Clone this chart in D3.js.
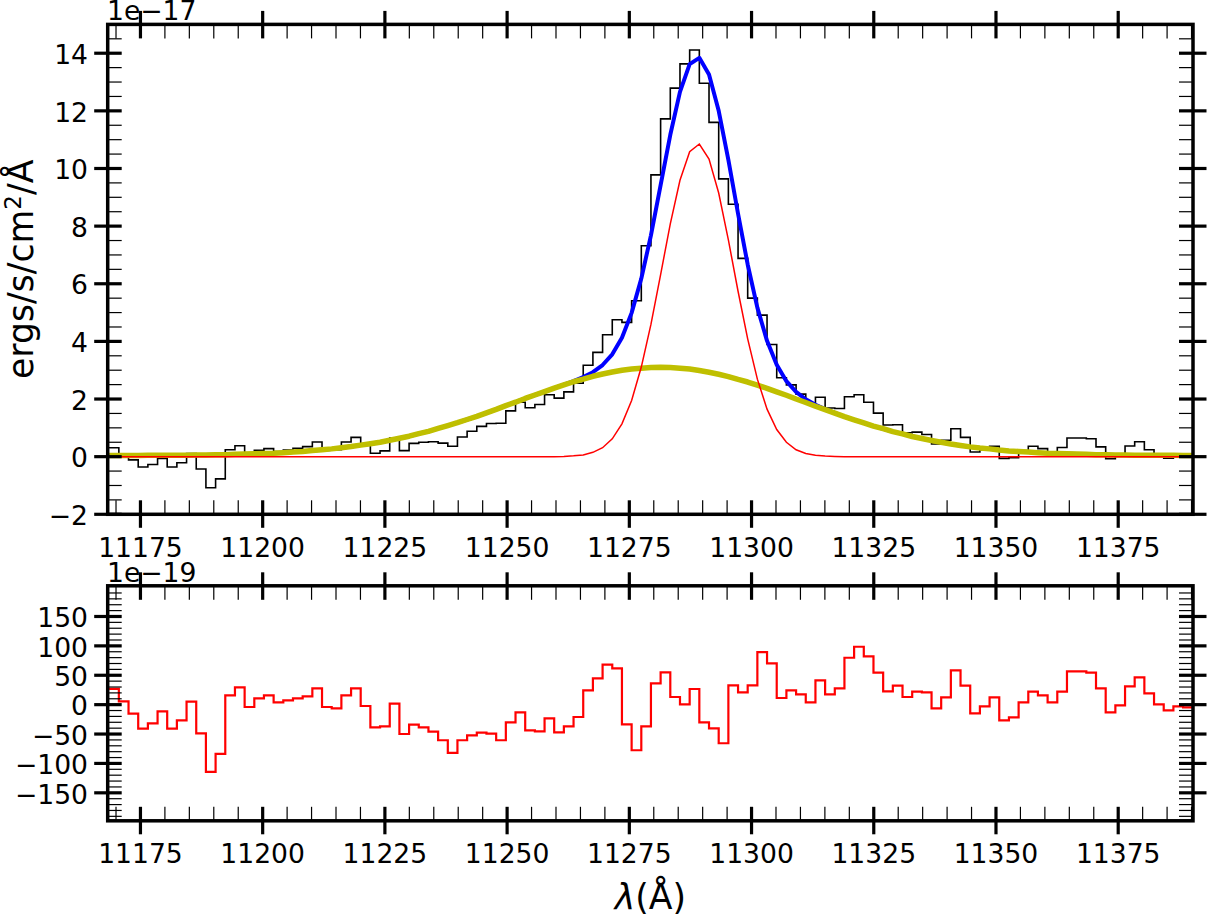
<!DOCTYPE html>
<html><head><meta charset="utf-8">
<script src="https://cdn.jsdelivr.net/npm/d3@7"></script>
<style>body{margin:0;background:#fff}svg{display:block}text{font-family:"DejaVu Sans",sans-serif;fill:#000}</style>
</head><body><svg id="c" width="1207" height="914"></svg>
<script>
// ---- data (flux in 1e-17 ergs/s/cm2/A, residual in 1e-19) ----
const wavelength = [11168.60,11170.58,11172.56,11174.54,11176.52,11178.50,11180.47,11182.45,11184.43,11186.41,11188.39,11190.37,11192.35,11194.33,11196.31,11198.29,11200.26,11202.24,11204.22,11206.20,11208.18,11210.16,11212.14,11214.12,11216.10,11218.08,11220.05,11222.03,11224.01,11225.99,11227.97,11229.95,11231.93,11233.91,11235.89,11237.87,11239.84,11241.82,11243.80,11245.78,11247.76,11249.74,11251.72,11253.70,11255.68,11257.66,11259.63,11261.61,11263.59,11265.57,11267.55,11269.53,11271.51,11273.49,11275.47,11277.45,11279.42,11281.40,11283.38,11285.36,11287.34,11289.32,11291.30,11293.28,11295.26,11297.24,11299.21,11301.19,11303.17,11305.15,11307.13,11309.11,11311.09,11313.07,11315.05,11317.03,11319.00,11320.98,11322.96,11324.94,11326.92,11328.90,11330.88,11332.86,11334.84,11336.82,11338.79,11340.77,11342.75,11344.73,11346.71,11348.69,11350.67,11352.65,11354.63,11356.61,11358.58,11360.56,11362.54,11364.52,11366.50,11368.48,11370.46,11372.44,11374.42,11376.40,11378.37,11380.35,11382.33,11384.31,11386.29,11388.27,11390.25];

const flux = [0.30,0.31,0.10,-0.11,-0.36,-0.27,-0.06,-0.36,-0.21,0.11,
-0.43,-1.08,-0.77,0.24,0.38,0.06,0.22,0.28,0.18,0.23,
0.29,0.35,0.51,0.23,0.24,0.51,0.67,0.42,0.12,0.20,
0.65,0.21,0.46,0.50,0.52,0.47,0.36,0.68,0.88,1.05,
1.15,1.16,1.59,1.89,1.70,1.81,2.15,2.03,2.25,2.55,
3.17,3.62,4.23,4.75,4.66,5.41,7.32,9.78,11.72,12.79,
13.63,14.11,12.96,11.60,9.64,8.76,6.88,5.50,4.91,3.89,
2.74,2.49,2.17,1.84,2.06,1.69,1.67,2.08,2.15,1.89,
1.51,1.10,1.11,0.83,0.85,0.77,0.44,0.57,0.97,0.67,
0.16,0.24,0.36,-0.06,-0.04,0.20,0.36,0.28,0.15,0.32,
0.65,0.65,0.62,0.34,-0.07,0.05,0.37,0.52,0.24,0.05,
-0.05,0.02,0.00];

const modelBroad = [0.04,0.04,0.04,0.04,0.05,0.05,0.05,0.05,0.05,0.06,
0.06,0.07,0.07,0.08,0.09,0.10,0.11,0.12,0.14,0.16,
0.18,0.21,0.24,0.27,0.31,0.35,0.40,0.45,0.50,0.57,
0.64,0.71,0.80,0.88,0.98,1.08,1.18,1.29,1.40,1.52,
1.64,1.77,1.89,2.02,2.14,2.26,2.38,2.49,2.60,2.69,
2.79,2.87,2.94,3.00,3.04,3.07,3.09,3.10,3.09,3.07,
3.04,2.99,2.93,2.86,2.78,2.68,2.59,2.48,2.37,2.25,
2.13,2.00,1.88,1.75,1.63,1.51,1.39,1.28,1.17,1.06,
0.97,0.87,0.79,0.70,0.63,0.56,0.50,0.44,0.39,0.34,
0.30,0.27,0.23,0.20,0.18,0.16,0.14,0.12,0.11,0.10,
0.09,0.08,0.07,0.07,0.06,0.06,0.05,0.05,0.05,0.05,
0.05,0.04,0.04];

const modelNarrow = [0,0,0,0,0,0,0,0,0,0,
0,0,0,0,0,0,0,0,0,0,
0,0,0,0,0,0,0,0,0,0,
0,0,0,0,0,0,0,0,0,0,
0,0,0,0,0,0,0,0.01,0.03,0.06,
0.15,0.31,0.62,1.14,1.95,3.11,4.59,6.32,8.08,9.59,
10.58,10.85,10.33,9.15,7.52,5.74,4.09,2.69,1.65,0.94,
0.50,0.24,0.11,0.05,0.02,0.01,0,0,0,0,
0,0,0,0,0,0,0,0,0,0,
0,0,0,0,0,0,0,0,0,0,
0,0,0,0,0,0,0,0,0,0,
0,0,0];

const modelTotal = [0.04,0.04,0.04,0.04,0.05,0.05,0.05,0.05,0.05,0.06,
0.06,0.07,0.07,0.08,0.09,0.10,0.11,0.12,0.14,0.16,
0.18,0.21,0.24,0.27,0.31,0.35,0.40,0.45,0.50,0.57,
0.64,0.71,0.80,0.88,0.98,1.08,1.18,1.29,1.40,1.52,
1.64,1.77,1.89,2.02,2.14,2.26,2.38,2.50,2.62,2.76,
2.93,3.18,3.55,4.13,4.99,6.18,7.68,9.42,11.17,12.66,
13.62,13.84,13.26,12.00,10.30,8.43,6.67,5.17,4.02,3.19,
2.62,2.25,1.99,1.80,1.65,1.52,1.39,1.28,1.17,1.06,
0.97,0.87,0.79,0.70,0.63,0.56,0.50,0.44,0.39,0.34,
0.30,0.27,0.23,0.20,0.18,0.16,0.14,0.12,0.11,0.10,
0.09,0.08,0.07,0.07,0.06,0.06,0.05,0.05,0.05,0.05,
0.05,0.04,0.04];

const residual = [26,26.7,5.7,-15.3,-40.8,-31.7,-11.3,-40.8,-26.6,5.1,
-48.7,-114.4,-83.8,15.9,29.5,-4,10.8,15.9,4,7.4,
10.8,14.2,27.8,-4,-6.2,15.9,27.8,-2.3,-38.5,-36.8,
1.7,-49.9,-34,-38.5,-45.9,-60.6,-82.1,-60.6,-52.1,-47.6,
-49.3,-60.6,-30,-13,-43.6,-45.3,-23.2,-47,-36.8,-21,
24.4,44.8,68,61.8,-33.4,-77.6,-36.8,36.3,55,13,
0.6,26.6,-30,-40.2,-65.7,32.8,20.9,32.8,89.5,70.2,
11.3,24.4,17.6,4,41.4,17.6,27.8,79.8,98.5,82.1,
54.4,22.6,32.3,13,22.1,20.9,-6.2,12.5,58.4,32.3,
-14.7,-2.8,12.5,-26.6,-21.5,4,22.1,15.9,4,22.1,
56.6,56.6,54.4,27.8,-13,-1.1,31.1,46.4,19.2,0.6,
-9.6,-2.8,-4.5];

const xTickValues = [11175,11200,11225,11250,11275,11300,11325,11350,11375];
const fluxTickValues = [-2,0,2,4,6,8,10,12,14];
const residTickValues = [-150,-100,-50,0,50,100,150];
const fluxOffsetLabel = "1e\u221217";
const residOffsetLabel = "1e\u221219";

// ---- layout ----
const svg = d3.select("#c");
const L = 107.7, R = 1193;
const top1 = 24.4, bot1 = 514.3, top2 = 585.8, bot2 = 820.8;
const x = d3.scaleLinear().domain([11168.3, 11390.3]).range([L, R]);
const y1 = d3.scaleLinear().domain([-2, 15]).range([bot1, top1]);
const y2 = d3.scaleLinear().domain([-197.6, 202.2]).range([bot2, top2]);
const FS = 26.6;
const fmt = v => (v < 0 ? "\u2212" + Math.abs(v) : String(v));

const defs = svg.append("defs");
defs.append("clipPath").attr("id","cp1").append("rect").attr("x",L).attr("y",top1).attr("width",R-L).attr("height",bot1-top1);
defs.append("clipPath").attr("id","cp2").append("rect").attr("x",L).attr("y",top2).attr("width",R-L).attr("height",bot2-top2);

const idx = d3.range(wavelength.length);

// top panel lines
const g1 = svg.append("g").attr("clip-path","url(#cp1)");
const stepLine = (ys, yS) => d3.line().curve(d3.curveStepBefore).x(i => x(wavelength[i])).y(i => yS(ys[i]));
const smoothLine = (ys, yS) => d3.line().x(i => x(wavelength[i])).y(i => yS(ys[i]));
g1.append("path").attr("d", stepLine(flux, y1)(idx)).attr("fill","none").attr("stroke","#000").attr("stroke-width",1.6);
g1.append("path").attr("d", smoothLine(modelTotal, y1)(idx)).attr("fill","none").attr("stroke","#0000ff").attr("stroke-width",4).attr("stroke-linejoin","round");
g1.append("path").attr("d", smoothLine(modelBroad, y1)(idx)).attr("fill","none").attr("stroke","#bfbf00").attr("stroke-width",5.5).attr("stroke-linejoin","round");
g1.append("path").attr("d", smoothLine(modelNarrow, y1)(idx)).attr("fill","none").attr("stroke","#ff0000").attr("stroke-width",1.5);

// bottom panel
const g2 = svg.append("g").attr("clip-path","url(#cp2)");
g2.append("path").attr("d", stepLine(residual, y2)(idx)).attr("fill","none").attr("stroke","#ff0000").attr("stroke-width",2.2);

// ---- axes ----
function frame(yS, top, bot, yMajor, yMinor, offsetLabel) {
  const g = svg.append("g").attr("stroke","#000");
  const xMinor = d3.range(11170, 11391, 5).filter(v => v % 25 !== 0);
  // x ticks bottom & top
  xTickValues.forEach(v => {
    g.append("line").attr("x1",x(v)).attr("x2",x(v)).attr("y1",bot+13.5).attr("y2",bot-14).attr("stroke-width",3.2);
    g.append("line").attr("x1",x(v)).attr("x2",x(v)).attr("y1",top-13.5).attr("y2",top+14).attr("stroke-width",3.2);
  });
  xMinor.forEach(v => {
    g.append("line").attr("x1",x(v)).attr("x2",x(v)).attr("y1",bot).attr("y2",bot-14).attr("stroke-width",1.2);
    g.append("line").attr("x1",x(v)).attr("x2",x(v)).attr("y1",top).attr("y2",top+14).attr("stroke-width",1.2);
  });
  yMajor.forEach(v => {
    g.append("line").attr("x1",L-13.5).attr("x2",L+14).attr("y1",yS(v)).attr("y2",yS(v)).attr("stroke-width",3.2);
    g.append("line").attr("x1",R-14).attr("x2",R+13.5).attr("y1",yS(v)).attr("y2",yS(v)).attr("stroke-width",3.2);
  });
  yMinor.forEach(v => {
    g.append("line").attr("x1",L).attr("x2",L+14).attr("y1",yS(v)).attr("y2",yS(v)).attr("stroke-width",1.2);
    g.append("line").attr("x1",R-14).attr("x2",R).attr("y1",yS(v)).attr("y2",yS(v)).attr("stroke-width",1.2);
  });
  g.append("rect").attr("x",L).attr("y",top).attr("width",R-L).attr("height",bot-top).attr("fill","none").attr("stroke-width",3.5);
  // labels
  const t = svg.append("g").style("font-size", FS + "px");
  xTickValues.forEach(v => t.append("text").attr("x",x(v)).attr("y",bot+42.5).attr("text-anchor","middle").text(fmt(v)));
  yMajor.forEach(v => t.append("text").attr("x",88).attr("y",yS(v)+10.7).attr("text-anchor","end").text(fmt(v)));
  t.append("text").attr("x",107).attr("y",top-4).text(offsetLabel);
}
const yMinor1 = d3.range(-2, 15.01, 0.5).filter(v => Math.abs(v % 2) > 1e-6);
const yMinor2 = d3.range(-190, 201, 10).filter(v => v % 50 !== 0);
frame(y1, top1, bot1, fluxTickValues, yMinor1, fluxOffsetLabel);
frame(y2, top2, bot2, residTickValues, yMinor2, residOffsetLabel);

// axis titles
const yl = svg.append("text").attr("transform","translate(33.4," + ((top1+bot1)/2) + ") rotate(-90)")
  .attr("text-anchor","middle").style("font-size","34.7px");
yl.append("tspan").text("ergs/s/cm");
yl.append("tspan").attr("dy",-12).style("font-size","23px").text("2");
yl.append("tspan").attr("dy",12).text("/\u00C5");

const xl = svg.append("text").attr("x",(L+R)/2).attr("y",909).attr("text-anchor","middle").style("font-size","34.7px");
xl.append("tspan").style("font-style","italic").text("\u03BB");
xl.append("tspan").text("(\u00C5)");
</script></body></html>
